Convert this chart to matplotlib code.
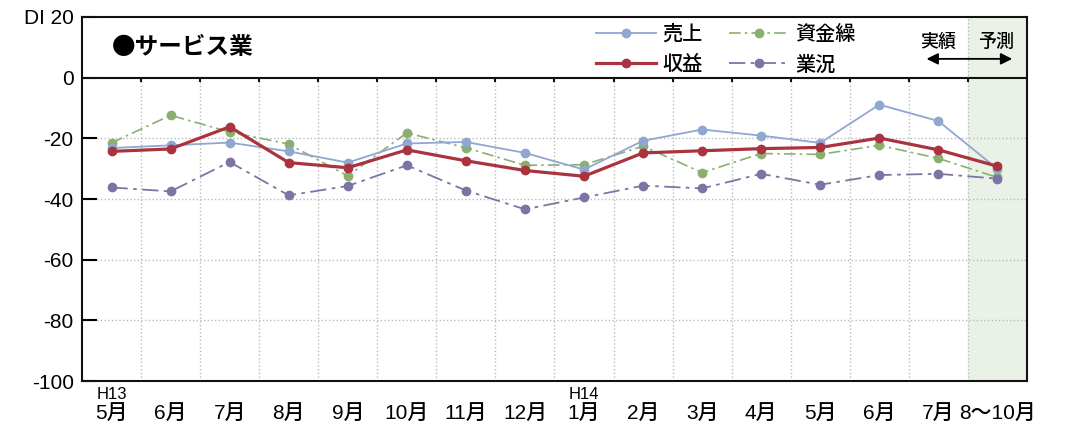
import matplotlib
matplotlib.use('Agg')
import matplotlib.pyplot as plt
import numpy as np

plt.rcParams['font.family'] = ['Liberation Sans', 'Noto Sans CJK JP']

months = ['5月', '6月', '7月', '8月', '9月', '10月', '11月', '12月',
          '1月', '2月', '3月', '4月', '5月', '6月', '7月', '8〜10月']
era_marks = {0: 'H13', 8: 'H14'}

uriage = [-23.2, -22.3, -21.4, -24.3, -28.0, -21.7, -21.2, -24.8,
          -30.3, -20.8, -17.1, -19.1, -21.5, -8.9, -14.3, -30.1]
shueki = [-24.3, -23.5, -16.2, -28.0, -29.7, -23.8, -27.4, -30.6,
          -32.5, -24.8, -24.1, -23.4, -23.0, -19.9, -23.8, -29.2]
shikinguri = [-21.5, -12.4, -17.9, -21.9, -32.4, -18.2, -23.1, -28.9,
              -28.7, -22.6, -31.3, -25.0, -25.3, -22.3, -26.6, -32.9]
gyokyo = [-36.2, -37.5, -27.8, -38.8, -35.7, -28.9, -37.2, -43.4,
          -39.5, -35.6, -36.5, -31.7, -35.3, -32.1, -31.7, -33.3]

yticks = [20, 0, -20, -40, -60, -80, -100]
ylabels = ['DI 20', '0', '-20', '-40', '-60', '-80', '-100']

c_blue = '#8FA7D1'
c_red = '#AA3340'
c_green = '#8BAF6E'
c_purple = '#7D74A3'

fig = plt.figure(figsize=(10.65, 4.25), dpi=100)
ax = fig.add_axes([0.077, 0.1035, 0.8873, 0.8565])

x = np.arange(len(months))
n = len(months)

# forecast band
ax.axvspan(n - 1.5, n - 0.5, color='#EAF1E6', zorder=0, lw=0)
ax.vlines(n - 1.5, -100, 20, colors='#BBBBBB', linestyles=':', lw=1, zorder=1)

# grid
bounds = np.arange(n - 1) + 0.5
ax.vlines(bounds[:-1], -100, 0, colors='#BBBBBB', linestyles=':', lw=1, zorder=1)
ax.hlines([-20, -40, -60, -80], -0.5, n - 0.5, colors='#BBBBBB', linestyles=':', lw=1, zorder=1)
ax.axhline(0, color='#111111', lw=1.5, zorder=2)
ax.vlines(bounds, -1.4, 0, colors='#111111', lw=1.5, zorder=2)

l1, = ax.plot(x, uriage, color=c_blue, lw=1.3, marker='o', ms=6, zorder=4)
l3, = ax.plot(x, shikinguri, color=c_green, lw=1.2, ls=(0, (7, 2.5, 1.5, 2.5)), marker='o', ms=6, zorder=3)
l4, = ax.plot(x, gyokyo, color=c_purple, lw=1.3, ls=(0, (9, 3, 2, 3)), marker='o', ms=6, zorder=3)
l2, = ax.plot(x, shueki, color=c_red, lw=2.3, marker='o', ms=6, zorder=5)

ax.set_xlim(-0.5, n - 0.5)
ax.set_ylim(-100, 20)
ax.set_yticks(yticks)
ax.set_yticklabels(ylabels, fontsize=15)
ax.tick_params(axis='y', direction='in', length=11, width=1.5, pad=6)
ax.set_xticks(x)
ax.set_xticklabels(months, fontsize=15, fontweight='medium')
ax.tick_params(axis='x', length=0, pad=17)
for s in ax.spines.values():
    s.set_linewidth(1.5)
    s.set_color('#111111')

for i, t in era_marks.items():
    ax.annotate(t, xy=(x[i], 0), xycoords=('data', 'axes fraction'),
                xytext=(0, -9.5), textcoords='offset points',
                ha='center', va='center', fontsize=12)

ax.text(0.0, 10.0, '●サービス業', fontsize=17, fontweight='bold',
        ha='left', va='center', family=['Noto Sans CJK JP', 'DejaVu Sans'])

leg = ax.legend([l1, l2, l3, l4], ['売上', '収益', '資金繰', '業況'],
                loc='upper left', bbox_to_anchor=(0.533, 1.007), ncol=2,
                frameon=False, handlelength=3.0,
                handletextpad=0.3, columnspacing=1.3, labelspacing=0.55,
                borderpad=0, prop={'family': 'Noto Sans CJK JP', 'size': 14.5,
                                   'weight': 'medium'})

ax.text(14.0, 11.9, '実績', fontsize=13, ha='center', va='center',
        fontweight='medium', family=['Noto Sans CJK JP'])
ax.text(14.98, 11.9, '予測', fontsize=13, ha='center', va='center',
        fontweight='medium', family=['Noto Sans CJK JP'])
ax.annotate('', xy=(13.8, 6.2), xytext=(15.25, 6.2),
            arrowprops=dict(arrowstyle='<|-|>', color='black', lw=1.3,
                            mutation_scale=17, shrinkA=0, shrinkB=0))

fig.savefig('out.png', dpi=100)
